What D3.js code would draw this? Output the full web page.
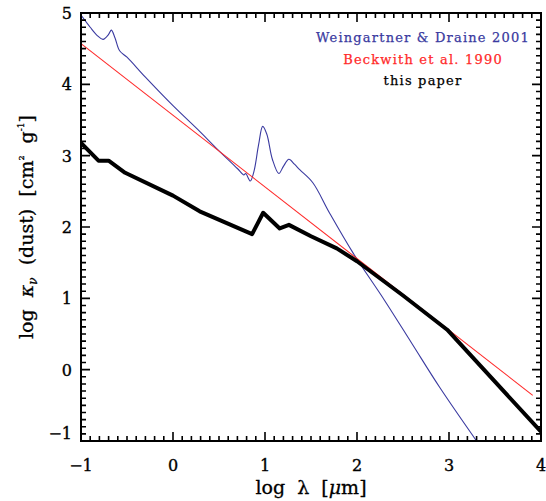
<!DOCTYPE html>
<html><head><meta charset="utf-8">
<script src="https://cdn.jsdelivr.net/npm/d3@7"></script>
<style>body{margin:0;background:#fff}svg{display:block}text{font-family:"DejaVu Serif",serif}</style>
</head><body><svg id="c" width="546" height="501"></svg>
<script>
// Data
const xTicks = [-1, 0, 1, 2, 3, 4];
const yTicks = [-1, 0, 1, 2, 3, 4, 5];
const legendLabels = ["Weingartner & Draine 2001", "Beckwith et al. 1990", "this paper"];
const wdX = [-1, -0.9, -0.82, -0.76, -0.7, -0.67, -0.63, -0.58, -0.5, -0.3, 0, 0.29, 0.475, 0.7, 0.77, 0.79, 0.84, 0.88, 0.93, 0.975, 1.02, 1.08, 1.15, 1.2, 1.26, 1.32, 1.38, 1.52, 1.7, 1.96, 2.3, 2.6, 2.9, 3.3];
const wdY = [4.97, 4.8, 4.68, 4.63, 4.7, 4.76, 4.65, 4.47, 4.38, 4.1, 3.7, 3.34, 3.1, 2.82, 2.73, 2.75, 2.645, 2.78, 3.15, 3.41, 3.3, 2.95, 2.75, 2.85, 2.95, 2.88, 2.8, 2.62, 2.2, 1.63, 0.97, 0.36, -0.25, -1.0];
const bkX = [-1, 3.91];
const bkY = [4.57, -0.36];
const tpX = [-1, -0.81, -0.7, -0.52, 0, 0.29, 0.86, 0.98, 1.16, 1.26, 1.5, 1.78, 2.0, 2.5, 2.98, 4];
const tpY = [3.18, 2.93, 2.93, 2.76, 2.44, 2.22, 1.9, 2.2, 1.98, 2.03, 1.87, 1.7, 1.52, 1.04, 0.56, -0.87];

const svg = d3.select("#c");
const L = 81, R = 541, T = 13, B = 441;
const x = d3.scaleLinear().domain([-1, 4]).range([L, R]);
const y = d3.scaleLinear().domain([-1, 5]).range([B, T]);

svg.append("defs").append("clipPath").attr("id","clp").append("rect").attr("x",L).attr("y",T).attr("width",R-L).attr("height",B-T);
const lineG = svg.append("g").attr("clip-path","url(#clp)");
function pts(xs, ys){ return xs.map((v,i)=>[v, ys[i]]); }
const lin = d3.line().x(d=>x(d[0])).y(d=>y(d[1]));
const smooth = d3.line().x(d=>x(d[0])).y(d=>y(d[1])).curve(d3.curveCatmullRom.alpha(0.5));

lineG.append("path").attr("d", smooth(pts(wdX, wdY))).attr("fill","none").attr("stroke","#3a3aa0").attr("stroke-width",1.1);
lineG.append("path").attr("d", lin(pts(bkX, bkY))).attr("fill","none").attr("stroke","#ff2a2a").attr("stroke-width",1.1);
lineG.append("path").attr("d", lin(pts(tpX, tpY))).attr("fill","none").attr("stroke","#000").attr("stroke-width",4).attr("stroke-linejoin","round");

// ticks on all four sides, drawn as one path
const minorX = d3.range(-10, 41).map(v=>v/10).filter(v=>!xTicks.includes(v));
const minorY = d3.range(-10, 51).map(v=>v/10).filter(v=>!yTicks.includes(v));
const p = d3.path();
function addX(vals, len){ vals.forEach(v=>{ const px=x(v); p.moveTo(px,B); p.lineTo(px,B-len); p.moveTo(px,T); p.lineTo(px,T+len); }); }
function addY(vals, len){ vals.forEach(v=>{ const py=y(v); p.moveTo(L,py); p.lineTo(L+len,py); p.moveTo(R,py); p.lineTo(R-len,py); }); }
addX(minorX, 5); addX(xTicks, 9); addY(minorY, 5); addY(yTicks, 9);
svg.append("path").attr("d", p.toString()).attr("fill","none").attr("stroke","#000").attr("stroke-width",1.6);
svg.append("rect").attr("x",L).attr("y",T).attr("width",R-L).attr("height",B-T).attr("fill","none").attr("stroke","#000").attr("stroke-width",2);

// tick labels
const fmt = d3.format("d");
svg.append("g").attr("stroke","#000").attr("stroke-width",0.35).selectAll("text").data(xTicks).join("text")
  .attr("x", d=>x(d)).attr("y", 471).attr("text-anchor","middle").attr("font-size",16).text(d=>fmt(d));
svg.append("g").attr("stroke","#000").attr("stroke-width",0.35).selectAll("text").data(yTicks).join("text")
  .attr("x", 72).attr("y", d=> y(d) + (d===-1 ? -2 : 6)).attr("text-anchor","end").attr("font-size",16).text(d=>fmt(d));

// axis titles
const xtl = svg.append("text").attr("x",(L+R)/2).attr("y",494).attr("text-anchor","middle").attr("font-size",19)
  .attr("stroke","#000").attr("stroke-width",0.3).attr("xml:space","preserve");
xtl.append("tspan").text("log  λ  [");
xtl.append("tspan").attr("font-style","italic").text("μ");
xtl.append("tspan").text("m]");

const ytl = svg.append("text").attr("transform",`translate(33,${(T+B)/2}) rotate(-90)`).attr("text-anchor","middle").attr("font-size",19)
  .attr("stroke","#000").attr("stroke-width",0.3).attr("xml:space","preserve");
ytl.append("tspan").text("log  ");
ytl.append("tspan").attr("font-style","italic").text("κ");
ytl.append("tspan").attr("font-style","italic").attr("font-size",12).attr("dy",4).text("ν");
ytl.append("tspan").attr("dy",-4).text("  (dust)  [cm");
ytl.append("tspan").attr("font-size",8).attr("dy",-9).text("2");
ytl.append("tspan").attr("dy",9).text("  g");
ytl.append("tspan").attr("font-size",9).attr("dy",-9).text("-1");
ytl.append("tspan").attr("dy",9).text("]");

// legend
const legColors = ["#3a3aa0", "#ff2a2a", "#000"];
svg.append("g").selectAll("text").data(legendLabels).join("text")
  .attr("x", 423).attr("y", (d,i)=> 42 + i*21.5).attr("text-anchor","middle").attr("font-size",13)
  .attr("letter-spacing",1.2).attr("stroke",(d,i)=>legColors[i]).attr("stroke-width",0.25)
  .attr("fill",(d,i)=>legColors[i]).text(d=>d);
</script></body></html>
